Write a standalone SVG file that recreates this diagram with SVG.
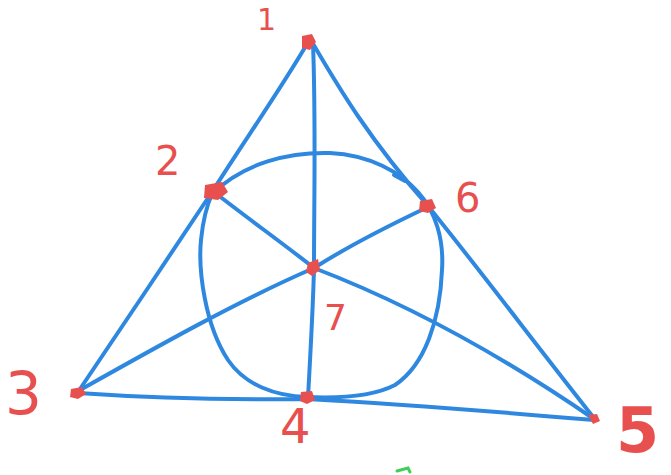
<svg xmlns="http://www.w3.org/2000/svg" width="671" height="475" viewBox="0 0 671 475">
<style>
.e{fill:none;stroke:#2f88e0;stroke-width:4;stroke-linecap:round;stroke-linejoin:round}
.p{fill:#e8504f}
.l{fill:#e8504f;font-family:"DejaVu Sans",sans-serif}
</style>
<rect width="671" height="475" fill="#fff"/>
<g id="connectors">
<path class="e" d="M307,44 C280,90 245,140 212,192 C170,255 120,330 78,392"/>
<path class="e" d="M312,42 C340,90 370,140 428,206 C480,270 540,350 594,418"/>
<path class="e" d="M78,393 C150,398 230,400 307,399 C400,404 500,412 594,420"/>
<path class="e" d="M313,44 C316,120 314,200 314,268 C313,310 310,360 308,398"/>
<path class="e" d="M214,192 C250,220 285,245 314,268 Q450,320 594,419"/>
<path class="e" d="M428,207 C390,225 350,245 314,268 C240,300 160,345 80,390"/>
<path class="e" d="M212,194 C245,162 290,152 330,153 C370,155 400,172 418,192 C436,212 444,240 442,270 C440,320 425,365 395,385 C370,398 330,398 307,397 C275,396 245,385 228,360 C205,325 198,270 201,240 C203,220 207,205 212,194"/>
<path class="e" d="M394,175 L405,181"/>
</g>
<g id="n1"><path class="p" d="M302,36 L312,34 L316,42 L310,50 L302,48 Z"/><text class="l" x="257" y="30" font-size="30">1</text></g>
<g id="n2"><path class="p" d="M205,185 L222,182 L228,192 L218,200 L204,198 Z"/><text class="l" x="155" y="175" font-size="40">2</text></g>
<g id="n6"><path class="p" d="M420,201 L432,199 L436,208 L428,213 L419,211 Z"/><text class="l" x="455" y="212" font-size="40">6</text></g>
<g id="n7"><path class="p" d="M308,263 L318,259 L320,270 L312,276 L306,272 Z"/><text class="l" x="324" y="330" font-size="36">7</text></g>
<g id="n3"><path class="p" d="M71,389 L82,387 L86,394 L78,399 L70,397 Z"/><text class="l" x="5" y="414" font-size="58">3</text></g>
<g id="n4"><path class="p" d="M301,392 L312,391 L315,400 L307,404 L300,401 Z"/><text class="l" x="280" y="443" font-size="48">4</text></g>
<g id="n5"><path class="p" d="M588,415 L597,414 L600,421 L593,424 Z"/><text class="l" x="616" y="452" font-size="62" font-weight="bold">5</text></g>
<path d="M397,471 L408,468 L410,472" fill="none" stroke="#3ecf5a" stroke-width="3" stroke-linecap="round"/>
</svg>
